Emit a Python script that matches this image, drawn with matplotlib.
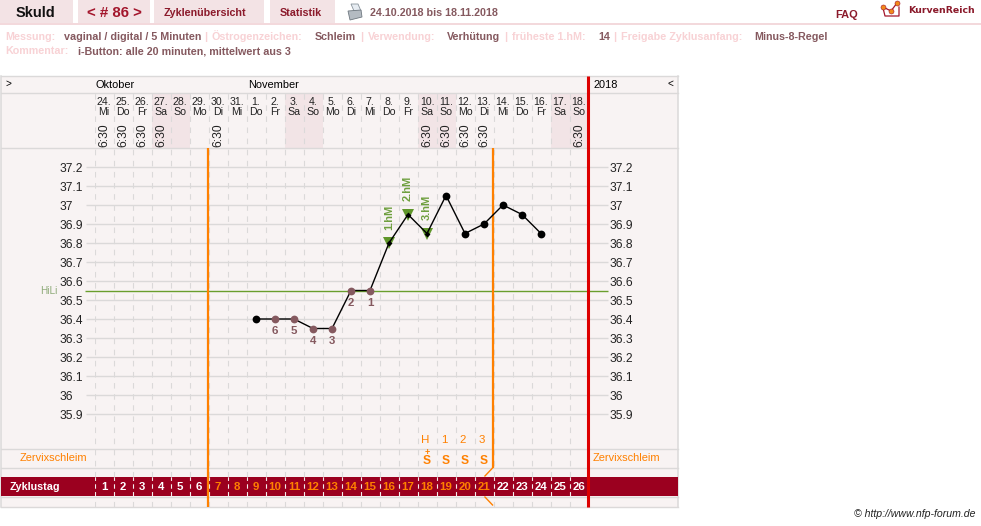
import matplotlib
matplotlib.use("Agg")
import matplotlib.pyplot as plt
from matplotlib.patches import Rectangle, Polygon

plt.rcParams["font.family"] = ["Liberation Sans", "DejaVu Sans"]

# cycle data
cycle_days = list(range(1, 27))
dates = ["24.", "25.", "26.", "27.", "28.", "29.", "30.", "31.", "1.", "2.", "3.", "4.", "5.",
         "6.", "7.", "8.", "9.", "10.", "11.", "12.", "13.", "14.", "15.", "16.", "17.", "18."]
weekdays = ["Mi", "Do", "Fr", "Sa", "So", "Mo", "Di", "Mi", "Do", "Fr", "Sa", "So", "Mo",
            "Di", "Mi", "Do", "Fr", "Sa", "So", "Mo", "Di", "Mi", "Do", "Fr", "Sa", "So"]
time_days = [1, 2, 3, 4, 7, 18, 19, 20, 21, 26]
temp_days = list(range(9, 25))
temps = [36.4, 36.4, 36.4, 36.35, 36.35, 36.55, 36.55, 36.8,
         36.95, 36.85, 37.05, 36.85, 36.9, 37.0, 36.95, 36.85]
low_days = [10, 11, 12, 13, 14, 15]
low_labels = ["6", "5", "4", "3", "2", "1"]
high_days = [16, 17, 18]
high_labels = ["1.hM", "2.hM", "3.hM"]
temp_ticks = [37.2, 37.1, 37.0, 36.9, 36.8, 36.7, 36.6, 36.5, 36.4, 36.3, 36.2, 36.1, 36.0, 35.9]
temp_tick_labels = ["37.2", "37.1", "37", "36.9", "36.8", "36.7", "36.6", "36.5", "36.4",
                    "36.3", "36.2", "36.1", "36", "35.9"]
cover_line = 36.55
mucus_days = [18, 19, 20, 21]
mucus_peak = ["H", "1", "2", "3"]
mucus_code = ["S", "S", "S", "S"]

PANEL = "#f8f3f3"
TAB = "#f3e3e5"
GRID = "#dbd9d9"
ORANGE = "#ff8000"
RED = "#dd0000"
WINE = "#9b001f"
BROWN = "#85595f"
PINK = "#f8d2d5"
GREEN = "#5f962a"
DARKTEXT = "#8b1a2b"
W, H = 981, 526


def px(size):
    return size * 0.72


fig = plt.figure(figsize=(W / 100, H / 100), dpi=100, facecolor="white")

# page furniture, laid out in pixel units
page = fig.add_axes([0, 0, 1, 1], zorder=1)
page.set_xlim(0, W)
page.set_ylim(H, 0)
page.axis("off")


def box(x0, y0, x1, y1, color, z=1):
    page.add_patch(Rectangle((x0, y0), x1 - x0, y1 - y0, fc=color, ec="none", zorder=z))


def label(x, y, s, size=11, color="black", ha="left", weight="normal", **kw):
    page.text(x, y, s, fontsize=px(size), color=color, ha=ha, va="center", weight=weight, **kw)


for x0, x1 in [(0, 73), (78, 150), (154, 264), (270, 335)]:
    box(x0, 0, x1, 23, TAB)
box(0, 23, W, 25, "#f3d9dc")

label(35.5, 13, "Skuld", 14.5, "#111111", "center", "bold")
label(114.5, 13, "< # 86 >", 15, "#a3162c", "center", "bold")
label(204.5, 12.5, "Zyklenübersicht", 10.7, DARKTEXT, "center", "bold")
label(300.5, 12.5, "Statistik", 10.7, DARKTEXT, "center", "bold")
label(370, 12.5, "24.10.2018 bis 18.11.2018", 10.7, BROWN, weight="bold")
label(847, 14.5, "FAQ", 11, DARKTEXT, "center", "bold")
label(908, 10.5, "KurvenReich", 9.4, DARKTEXT, weight="bold", family="DejaVu Sans")

# printer icon
page.add_patch(Polygon([(351, 4), (358, 4), (361, 11), (354, 11)], fc="#e6ecf2", ec="#8a949c", lw=0.6, zorder=2))
page.add_patch(Polygon([(348, 11), (361, 10), (362, 17), (350, 20)], fc="#b4bbc2", ec="#6f7880", lw=0.6, zorder=2))

# logo
page.plot([883, 885, 899, 899], [8, 16, 16, 7], color="#a3162c", lw=0.9, zorder=2)
page.plot([883, 891, 897], [7, 11, 3], color="#a3162c", lw=0.9, zorder=3)
page.plot([883, 891, 897], [7, 11, 3], "o", color="#f08a1a", ms=3.6, mec="#a3162c", mew=0.4, zorder=4)

# settings lines
row1 = [(5, "Messung:", PINK), (64, "vaginal / digital / 5 Minuten", BROWN), (204, "|", PINK),
        (212, "Östrogenzeichen:", PINK), (315, "Schleim", BROWN), (360, "|", PINK),
        (368, "Verwendung:", PINK), (447, "Verhütung", BROWN), (504, "|", PINK),
        (512, "früheste 1.hM:", PINK), (598, "14", BROWN), (613, "|", PINK),
        (621, "Freigabe Zyklusanfang:", PINK), (754, "Minus-8-Regel", BROWN)]
for x, s, c in row1:
    label(x, 36.5, s, 10.7, c, weight="bold")
label(5, 51.5, "Kommentar:", 10.7, PINK, weight="bold")
label(78, 51.5, "i-Button: alle 20 minuten, mittelwert aus 3", 10.7, BROWN, weight="bold")

# chart frame
box(1, 76, 678, 507, PANEL, 0.5)
for y in [76, 93, 148, 449, 468, 506.5]:
    page.plot([1, 678], [y, y], color=GRID, lw=1.0, zorder=1)
for x in [1, 678]:
    page.plot([x, x], [76, 507], color=GRID, lw=1.1, zorder=1)
box(1, 477, 678, 496, WINE, 1.5)
page.plot([1, 678], [496.5, 496.5], color=GRID, lw=1.0, zorder=1.5)

for d in cycle_days:
    if weekdays[d - 1] in ("Sa", "So"):
        x0 = 94.5 + 19 * (d - 1)
        box(x0, 93.5, x0 + 19, 147.5, "#f2e4e6", 0.8)

label(96, 85, "Oktober", 11)
label(248, 85, "November", 11)
label(593, 85, "2018", 11)
label(5, 84, ">", 10)
label(668, 83.5, "<", 10)
label(20, 458, "Zervixschleim", 11, ORANGE)
label(593, 458, "Zervixschleim", 11, ORANGE)
label(10, 487, "Zyklustag", 10.7, "white", weight="bold")
label(40, 290.5, "HiLi", 10, "#8eaa78")
label(976, 514, "© http://www.nfp-forum.de", 10.5, "#222222", "right", style="italic")

# day columns and temperature curve share one data scale
XL, XR = 94.5, 607.5
YT, YB = 93.0, 507.0
chart = fig.add_axes([XL / W, 1 - YB / H, (XR - XL) / W, (YB - YT) / H], zorder=2)
chart.patch.set_visible(False)
to_day = lambda p: 1 + (p - 104) / 19
to_temp = lambda p: 37.2 - (p - 167) / 190
chart.set_xlim(to_day(XL), to_day(XR))
chart.set_ylim(to_temp(YB), to_temp(YT))
for s in chart.spines.values():
    s.set_visible(False)
chart.set_xticks([])
chart.set_yticks(temp_ticks)
chart.set_yticklabels(temp_tick_labels)
chart.tick_params(axis="y", length=0, labelsize=px(12), labelleft=True, labelright=True, pad=0,
                  labelcolor="#222222")
for t in chart.yaxis.get_major_ticks():
    t.label1.set_ha("left")
    t.label1.set_x(-34.5 / (XR - XL))
    t.label2.set_ha("left")
    t.label2.set_x(1 + 1.5 / (XR - XL))

# grid: dashes run above and below the cycle-day band, lighter ones cross it
day_edges = [d - 0.5 for d in cycle_days]
chart.vlines(day_edges, to_temp(477), to_temp(YT), color=GRID, lw=0.8, linestyles=(0, (5, 5)), zorder=1, snap=True)
chart.vlines(day_edges, to_temp(YB), to_temp(497), color=GRID, lw=0.8, linestyles=(0, (5, 5)), zorder=1, snap=True)
chart.vlines(day_edges, to_temp(496), to_temp(477), color="#f4eeee", lw=0.8, linestyles=(0, (4, 3)), zorder=1.2, snap=True)
chart.hlines(temp_ticks, to_day(86), to_day(XR), color=GRID, lw=1.0, zorder=1, clip_on=False, snap=True)
chart.hlines(cover_line, to_day(85), to_day(XR), color="#6a9e2d", lw=1.0, zorder=2, clip_on=False, snap=True)

# cycle boundaries
chart.vlines(6.45, to_temp(YB), to_temp(148), color=ORANGE, lw=1.6, zorder=3)
chart.vlines(21.45, to_temp(468), to_temp(148), color=ORANGE, lw=1.6, zorder=3)
chart.plot([21.45, 21.05], [to_temp(468), to_temp(476)], color=ORANGE, lw=1, zorder=3)
chart.plot([21.05, 21.45], [to_temp(497), to_temp(505)], color=ORANGE, lw=1, zorder=3)
chart.vlines(26.47, to_temp(YB), to_temp(76), color=RED, lw=2.2, zorder=3, clip_on=False)

# date header and cycle-day labels
for d in cycle_days:
    chart.text(d, to_temp(102), dates[d - 1], fontsize=px(10.5), ha="center", va="center", color="#222222")
    chart.text(d, to_temp(112), weekdays[d - 1], fontsize=px(10.5), ha="center", va="center", color="#222222")
    chart.text(d, to_temp(487), str(d), fontsize=px(11.5), ha="center", va="center", weight="bold", zorder=4,
               color=ORANGE if 7 <= d <= 21 else "white")
for d in time_days:
    chart.text(d + 0.03, to_temp(135), "6:30", fontsize=px(12), rotation=90, ha="center", va="center",
               color="#222222")

# mucus observations
for d, p, c in zip(mucus_days, mucus_peak, mucus_code):
    chart.text(d - 0.1, to_temp(440), p, fontsize=px(11.5), ha="center", va="center", color=ORANGE)
    chart.text(d, to_temp(461.5), c, fontsize=px(12), ha="center", va="center", color=ORANGE, weight="bold")
chart.text(18, to_temp(452.5), "+", fontsize=px(9), ha="center", va="center", color=ORANGE, weight="bold")

# temperature curve
chart.plot(temp_days, temps, color="black", lw=1.0, zorder=5)
by_day = dict(zip(temp_days, temps))
black_days = [d for d in temp_days if d not in low_days and d not in high_days]
chart.plot(black_days, [by_day[d] for d in black_days], "o", color="black", ms=5.6, mew=0, zorder=6)
chart.plot(low_days, [by_day[d] for d in low_days], "o", color=BROWN, ms=5.6, mew=0, zorder=6)
chart.plot(high_days, [by_day[d] for d in high_days], "v", color=GREEN, ms=8.5, mew=0, zorder=4)
chart.plot(high_days, [by_day[d] for d in high_days], "D", color="black", ms=3, mew=0, zorder=6)
for d, s in zip(low_days, low_labels):
    chart.annotate(s, (d, by_day[d]), xytext=(0, -px(12)), textcoords="offset points", ha="center", va="center",
                   fontsize=px(11.5), color=BROWN, weight="bold", zorder=6)
for d, s in zip(high_days, high_labels):
    chart.annotate(s, (d, by_day[d]), xytext=(0, px(26)), textcoords="offset points", ha="center", va="center",
                   fontsize=px(11), color=GREEN, weight="bold", rotation=90, zorder=6, alpha=0.9)

fig.savefig("out.png", dpi=100, facecolor="white")
